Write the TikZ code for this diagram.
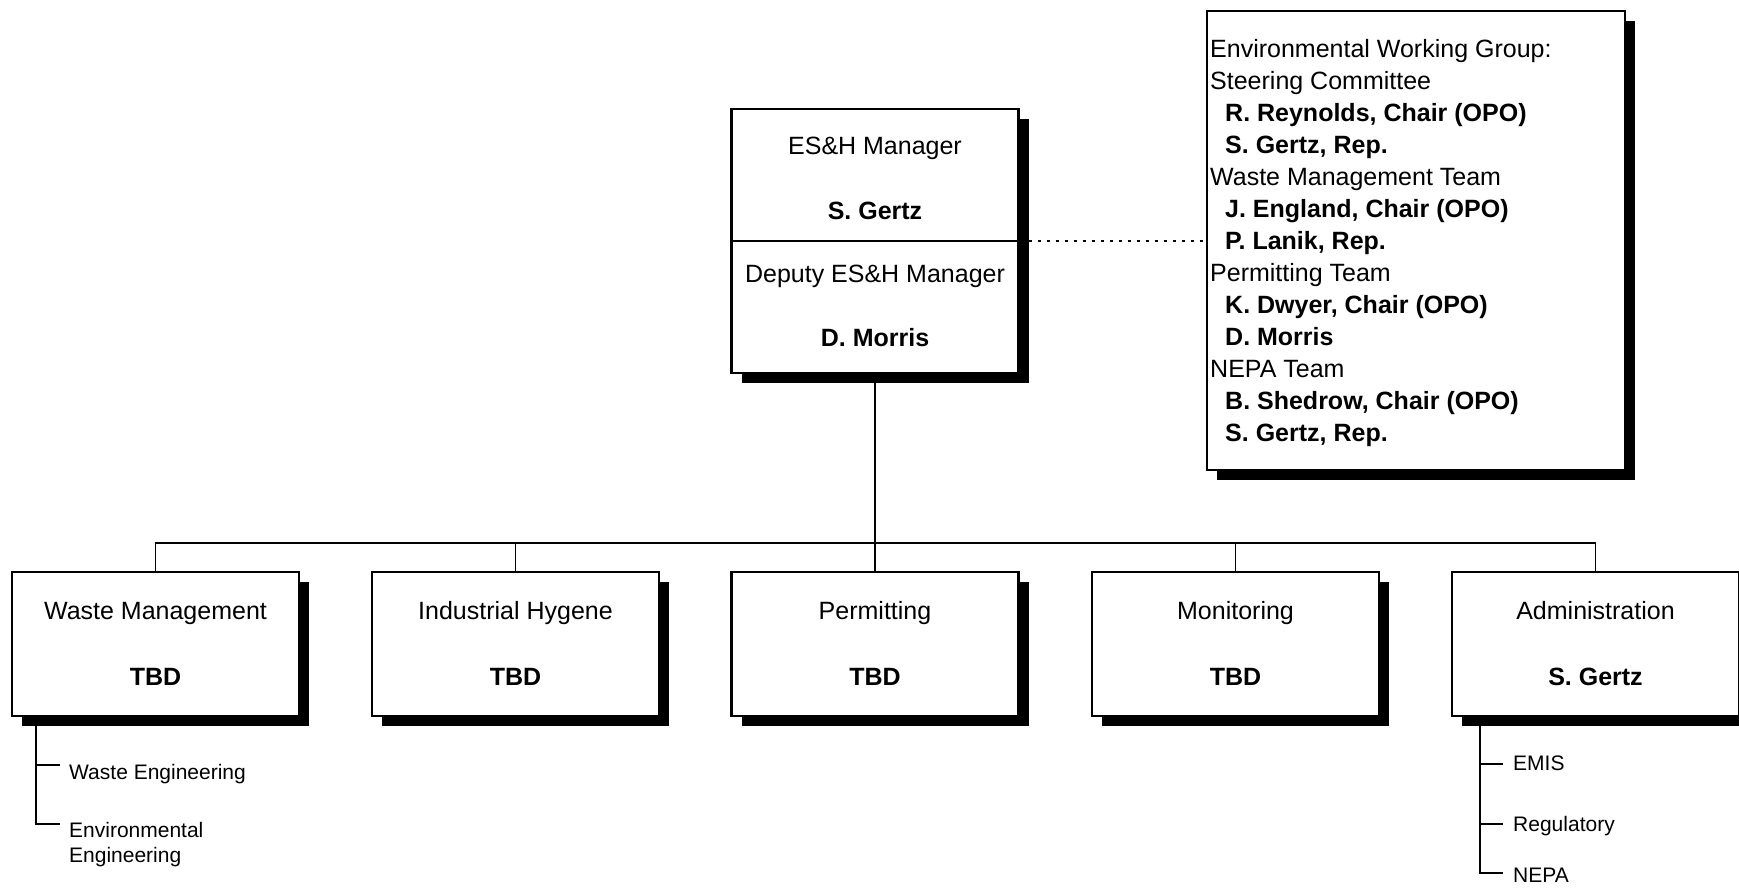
\documentclass[tikz,border=0pt]{standalone}
\usepackage{fontspec}
\setmainfont{Liberation Sans}
\usetikzlibrary{shadows}

\tikzset{
  unitbox/.style={draw, line width=2.4pt, fill=white, inner sep=0pt,
    minimum width=287pt, minimum height=144pt,
    drop shadow={shadow xshift=10pt, shadow yshift=-10pt, fill=black, opacity=1}},
  title/.style={anchor=base, inner sep=0pt, font=\fontsize{25}{30}\selectfont},
  person/.style={anchor=base, inner sep=0pt, font=\fontsize{25}{30}\selectfont\bfseries},
  wglead/.style={anchor=base west, inner sep=0pt, font=\fontsize{25}{30}\selectfont},
  wgmember/.style={anchor=base west, inner sep=0pt, font=\fontsize{25}{30}\selectfont\bfseries},
  subitem/.style={anchor=base west, inner sep=0pt, font=\fontsize{21}{25}\selectfont},
  link/.style={line width=1.5pt},
  subline/.style={line width=2.5pt},
  liaison/.style={line width=2pt, dash pattern=on 3.5pt off 5.5pt},
}

\begin{document}
\begin{tikzpicture}[x=1pt, y=-1pt]
\clip (0,0) rectangle (1739,887);
\fill[white] (0,0) rectangle (1739,887);

% manager box with deputy section
\node[unitbox, minimum height=264pt] (esh) at (875,241) {};
\draw[line width=2.4pt] (esh.west) -- (esh.east);
\node[title]  (eshT) at (875,154) {ES\&H Manager};
\node[person] (eshN) at (875,219) {S. Gertz};
\node[title]  (depT) at (875,282) {Deputy ES\&H Manager};
\node[person] (depN) at (875,346) {D. Morris};

% working group box
\node[unitbox, minimum width=418pt, minimum height=459pt] (ewg) at (1416,240.5) {};
\node[wglead]   (g0)  at (1210,57.5)  {Environmental Working Group:};
\node[wglead]   (g1)  at (1210,89.5)  {Steering Committee};
\node[wgmember] (g2)  at (1225,121.5) {R. Reynolds, Chair (OPO)};
\node[wgmember] (g3)  at (1225,153.5) {S. Gertz, Rep.};
\node[wglead]   (g4)  at (1210,185.5) {Waste Management Team};
\node[wgmember] (g5)  at (1225,217.5) {J. England, Chair (OPO)};
\node[wgmember] (g6)  at (1225,249.5) {P. Lanik, Rep.};
\node[wglead]   (g7)  at (1210,281.5) {Permitting Team};
\node[wgmember] (g8)  at (1225,313.5) {K. Dwyer, Chair (OPO)};
\node[wgmember] (g9)  at (1225,345.5) {D. Morris};
\node[wglead]   (g10) at (1210,377.5) {NEPA Team};
\node[wgmember] (g11) at (1225,409.5) {B. Shedrow, Chair (OPO)};
\node[wgmember] (g12) at (1225,441.5) {S. Gertz, Rep.};

% liaison to the working group
\draw[liaison] (esh.east) -- (ewg.west |- esh.east);

% functional groups
\node[unitbox] (wm)   at (155.5,644)  {};
\node[unitbox] (ih)   at (515.5,644)  {};
\node[unitbox] (perm) at (875,644)    {};
\node[unitbox] (mon)  at (1235.5,644) {};
\node[unitbox] (adm)  at (1595.5,644) {};

\node[title]  (wmT)   at (155.5,619)  {Waste Management};
\node[person] (wmN)   at (155.5,685)  {TBD};
\node[title]  (ihT)   at (515.5,619)  {Industrial Hygene};
\node[person] (ihN)   at (515.5,685)  {TBD};
\node[title]  (permT) at (875,619)    {Permitting};
\node[person] (permN) at (875,685)    {TBD};
\node[title]  (monT)  at (1235.5,619) {Monitoring};
\node[person] (monN)  at (1235.5,685) {TBD};
\node[title]  (admT)  at (1595.5,619) {Administration};
\node[person] (admN)  at (1595.5,685) {S. Gertz};

% reporting lines
\coordinate (bus) at (0,543);
\draw[link] (esh.south) -- (perm.north);
\draw[link] (wm.north) -- (wm.north |- bus) -- (adm.north |- bus) -- (adm.north);
\foreach \n in {ih, mon} \draw[link] (\n.north) -- (\n.north |- bus);

% waste management sub-functions
\coordinate (wmroot) at (36,716);
\coordinate (wmt1) at (60,765);
\coordinate (wmt2) at (60,824);
\draw[subline] (wmroot) |- (wmt2);
\draw[subline] (wmroot |- wmt1) -- (wmt1);
\node[subitem] (we)  at (69,779) {Waste Engineering};
\node[subitem] (ee1) at (69,837) {Environmental};
\node[subitem] (ee2) at (69,862) {Engineering};

% administration sub-functions
\coordinate (admroot) at (1480,716);
\coordinate (at1) at (1503,764);
\coordinate (at2) at (1503,824);
\coordinate (at3) at (1503,873);
\draw[subline] (admroot) |- (at3);
\draw[subline] (admroot |- at1) -- (at1);
\draw[subline] (admroot |- at2) -- (at2);
\node[subitem] (emis) at (1513,770) {EMIS};
\node[subitem] (reg)  at (1513,831) {Regulatory};
\node[subitem] (nepa) at (1513,882) {NEPA};
\end{tikzpicture}
\end{document}
